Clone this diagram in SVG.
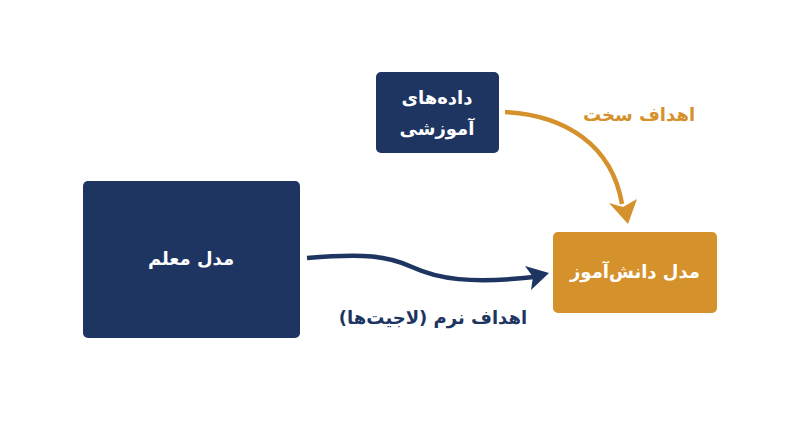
<svg xmlns="http://www.w3.org/2000/svg" width="800" height="447" viewBox="0 0 800 447">
<style>
.navy{fill:#1e3461}
.orange{fill:#d5912c}
.bt{font-family:"DejaVu Sans",sans-serif;font-weight:bold;font-size:18px;fill:#ffffff;text-anchor:middle}
.lbl{font-family:"DejaVu Sans",sans-serif;font-weight:bold;font-size:18px;text-anchor:middle}
</style>
<rect width="800" height="447" fill="#ffffff"/>
<g id="connectors">
<g id="hard-targets">
<path d="M505,112 C565,115 612,145 622,204" fill="none" stroke="#d5912c" stroke-width="4.5"/>
<polygon points="628,224 609,203 623,207 637,199" fill="#d5912c"/>
<text class="lbl" x="639" y="121" direction="rtl" fill="#d5912c">اهداف سخت</text>
</g>
<g id="soft-targets">
<path d="M307,258 C365,253 388,256 412,267 C438,279 470,284 534,277" fill="none" stroke="#1e3461" stroke-width="4.5"/>
<polygon points="549,273 525,266 533,277 531,290" fill="#1e3461"/>
<text class="lbl" x="433" y="324" direction="rtl" unicode-bidi="embed" fill="#1e3461">اهداف نرم (لاجیت&#8204;ها)</text>
</g>
</g>
<g id="teacher">
<rect class="navy" x="83" y="181" width="217" height="157" rx="5"/>
<text class="bt" x="191" y="265" direction="rtl">مدل معلم</text>
</g>
<g id="data">
<rect class="navy" x="376" y="72" width="123" height="81" rx="5"/>
<text class="bt" x="437" y="104" direction="rtl">داده&#8204;های</text>
<text class="bt" x="437" y="135" direction="rtl">آموزشی</text>
</g>
<g id="student">
<rect class="orange" x="553" y="232" width="164" height="81" rx="5"/>
<text class="bt" x="635" y="278" direction="rtl">مدل دانش&#8204;آموز</text>
</g>
</svg>
